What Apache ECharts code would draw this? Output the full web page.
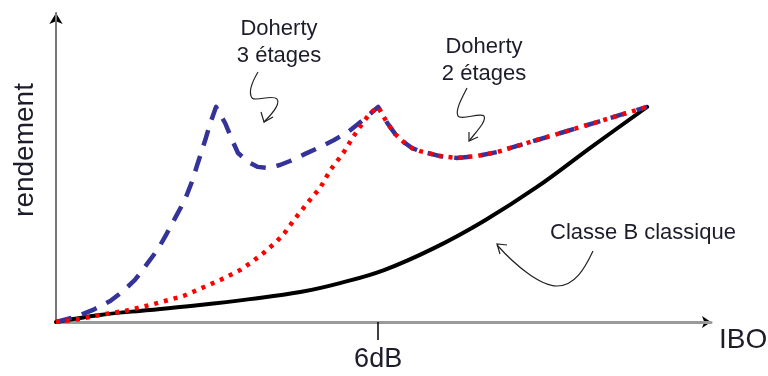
<!DOCTYPE html>
<html>
<head>
<meta charset="utf-8">
<script src="https://cdn.jsdelivr.net/npm/echarts@6/dist/echarts.min.js"></script>
<style>
html,body{margin:0;padding:0;background:#fff;}
#chart{width:768px;height:376px;}
</style>
</head>
<body>
<div id="chart"></div>
<script>
// IBO positions (dB from origin) and efficiency values (arbitrary %)
var classeB_x = [0, 0.82, 1.75, 2.68, 3.61, 4.55, 5.29, 6.11, 7.04, 7.97, 8.96, 9.97, 11.01];
var classeB_y = [0, 2.3, 3.9, 5.5, 7.4, 9.7, 12.6, 16.8, 23.9, 32.7, 43.7, 56.6, 69.6];

var doherty2_x = [0, 0.45, 0.82, 1.29, 1.75, 2.37, 3.06, 3.43, 3.67, 3.89, 4.12, 4.27, 4.42, 4.55, 4.73, 4.92, 5.11, 5.35, 5.52, 5.66, 5.85, 6.0,
                  6.17, 6.32, 6.47, 6.63, 6.78, 7.15, 7.47, 7.84, 8.22, 8.59, 8.96, 9.33, 9.71, 10.08, 10.51, 11.01];
var doherty2_y = [0, 1.0, 2.3, 3.6, 5.5, 8.4, 13.6, 16.8, 19.7, 22.7, 26.2, 29.1, 32.7, 35.6, 39.5, 43.4, 49.2, 54.7, 59.5, 63.1, 67.6, 69.6,
                  64.4, 60.8, 58.3, 56.3, 55.3, 53.7, 53.1, 53.7, 55.0, 57.0, 58.9, 60.8, 62.8, 64.7, 67.0, 69.6];

var doherty3_x = [0, 0.35, 0.69, 1.01, 1.25, 1.47, 1.71, 1.90, 2.05, 2.22, 2.40, 2.53, 2.63, 2.78, 2.87, 2.98,
                  3.15, 3.28, 3.39, 3.58, 3.76, 3.95, 4.17, 4.36, 4.64, 4.88, 5.18, 5.46, 5.76, 6.0,
                  6.17, 6.32, 6.47, 6.63, 6.78, 7.15, 7.47, 7.84, 8.22, 8.59, 8.96, 9.33, 9.71, 10.08, 10.51, 11.01];
var doherty3_y = [0, 1.6, 3.9, 6.8, 10.0, 13.6, 19.1, 23.6, 28.2, 33.7, 39.5, 45.3, 50.8, 58.9, 64.1, 69.6,
                  64.4, 58.9, 54.7, 51.8, 50.2, 49.8, 50.8, 52.1, 54.4, 56.3, 58.9, 61.8, 66.0, 69.6,
                  64.4, 60.8, 58.3, 56.3, 55.3, 53.7, 53.1, 53.7, 55.0, 57.0, 58.9, 60.8, 62.8, 64.7, 67.0, 69.6];

var tickValues = [6];
var tickLabels = ['6dB'];
var xAxisName = 'IBO';
var yAxisName = 'rendement';
var labelD3 = 'Doherty\n3 étages';
var labelD2 = 'Doherty\n2 étages';
var labelB = 'Classe B classique';

function pairs(xs, ys) { return xs.map(function (x, i) { return [x, ys[i]]; }); }

var FONT = '"Liberation Sans", Arial, Helvetica, sans-serif';
var TXT = '#1c1c2a';
var chart = echarts.init(document.getElementById('chart'), null, {renderer: 'canvas'});

var ARROW_STYLE = {fill: null, stroke: '#222', lineWidth: 1.2};
function bez(x1, y1, c1x, c1y, c2x, c2y, x2, y2) {
  return {type: 'bezierCurve', shape: {x1: x1, y1: y1, cpx1: c1x, cpy1: c1y, cpx2: c2x, cpy2: c2y, x2: x2, y2: y2}, style: ARROW_STYLE, z: 10};
}
function head(pts) {
  return {type: 'polyline', shape: {points: pts}, style: ARROW_STYLE, z: 10};
}

var option = {
  animation: false,
  backgroundColor: '#fff',
  grid: {left: 56, right: 57, top: 13, bottom: 54, containLabel: false, outerBoundsMode: 'none'},
  xAxis: [{
    type: 'value', min: 0, max: 12.2, interval: 6, z: 2,
    axisLine: {show: true, lineStyle: {color: '#9a9a9a', width: 3}},
    axisTick: {show: true, customValues: tickValues, length: 18, lineStyle: {color: '#000', width: 1.5}},
    axisLabel: {show: true, customValues: tickValues, margin: 24, fontSize: 27, color: TXT, fontFamily: FONT,
      formatter: function (v) { var i = tickValues.indexOf(v); return i >= 0 ? tickLabels[i] : ''; }},
    splitLine: {show: false}
  }, {
    type: 'value', min: 0, max: 12.2, interval: 6, position: 'bottom', offset: 0, z: 1,
    axisLine: {show: true, symbol: ['none', 'arrow'], symbolSize: [9, 9], lineStyle: {color: '#000', width: 1}},
    axisTick: {show: false}, axisLabel: {show: false}, splitLine: {show: false}
  }],
  yAxis: [{
    type: 'value', min: 0, max: 100, z: 2,
    axisLine: {show: true, lineStyle: {color: '#777', width: 2}},
    axisTick: {show: false}, axisLabel: {show: false}, splitLine: {show: false}
  }, {
    type: 'value', min: 0, max: 100, position: 'left', offset: 0, z: 1,
    axisLine: {show: true, symbol: ['none', 'arrow'], symbolSize: [10, 11], lineStyle: {color: '#000', width: 1}},
    axisTick: {show: false}, axisLabel: {show: false}, splitLine: {show: false}
  }],
  series: [{
    name: labelB, type: 'line', xAxisIndex: 0, yAxisIndex: 0, showSymbol: false, symbol: 'none', smooth: 0.4,
    data: pairs(classeB_x, classeB_y),
    lineStyle: {color: '#000', width: 4, cap: 'round'}, z: 3
  }, {
    name: 'Doherty 3 étages', type: 'line', xAxisIndex: 0, yAxisIndex: 0, showSymbol: false, symbol: 'none', smooth: false,
    data: pairs(doherty3_x, doherty3_y),
    lineStyle: {color: '#33339a', width: 4.5, type: [16, 11], cap: 'butt', join: 'round'}, z: 4
  }, {
    name: 'Doherty 2 étages', type: 'line', xAxisIndex: 0, yAxisIndex: 0, showSymbol: false, symbol: 'none', smooth: false,
    data: pairs(doherty2_x, doherty2_y),
    lineStyle: {color: '#ff0000', width: 4.5, type: [4, 6], cap: 'butt'}, z: 5
  }],
  graphic: [
    {type: 'text', x: 25, y: 150, rotation: Math.PI / 2, style: {text: yAxisName, fontSize: 28, fontFamily: FONT, fill: TXT, align: 'center', verticalAlign: 'middle'}},
    {type: 'text', x: 719, y: 326, style: {text: xAxisName, fontSize: 28, fontFamily: FONT, fill: TXT, align: 'left', verticalAlign: 'top'}},
    {type: 'text', x: 279, y: 15, style: {text: labelD3, fontSize: 22, lineHeight: 27, fontFamily: FONT, fill: TXT, align: 'center', verticalAlign: 'top'}},
    {type: 'text', x: 484, y: 33, style: {text: labelD2, fontSize: 22, lineHeight: 27, fontFamily: FONT, fill: TXT, align: 'center', verticalAlign: 'top'}},
    {type: 'text', x: 643, y: 222, style: {text: labelB, fontSize: 22, fontFamily: FONT, fill: TXT, align: 'center', verticalAlign: 'top'}},
    bez(258, 72, 252, 82, 248, 92, 252, 98),
    bez(252, 98, 256, 102, 272, 94, 277, 99),
    bez(277, 99, 281, 104, 272, 114, 264, 122),
    head([[261, 112], [264, 122], [273, 117]]),
    bez(467, 88, 462, 98, 455, 110, 458, 116),
    bez(458, 116, 461, 121, 480, 112, 484, 116),
    bez(484, 116, 487, 121, 476, 132, 469, 141),
    head([[469, 132], [469, 141], [478, 137]]),
    bez(593, 251, 585, 268, 575, 286, 557, 286),
    bez(557, 286, 540, 286, 515, 265, 497, 245),
    head([[507, 245], [497, 244], [500, 254]])
  ]
};
chart.setOption(option);
</script>
</body>
</html>
